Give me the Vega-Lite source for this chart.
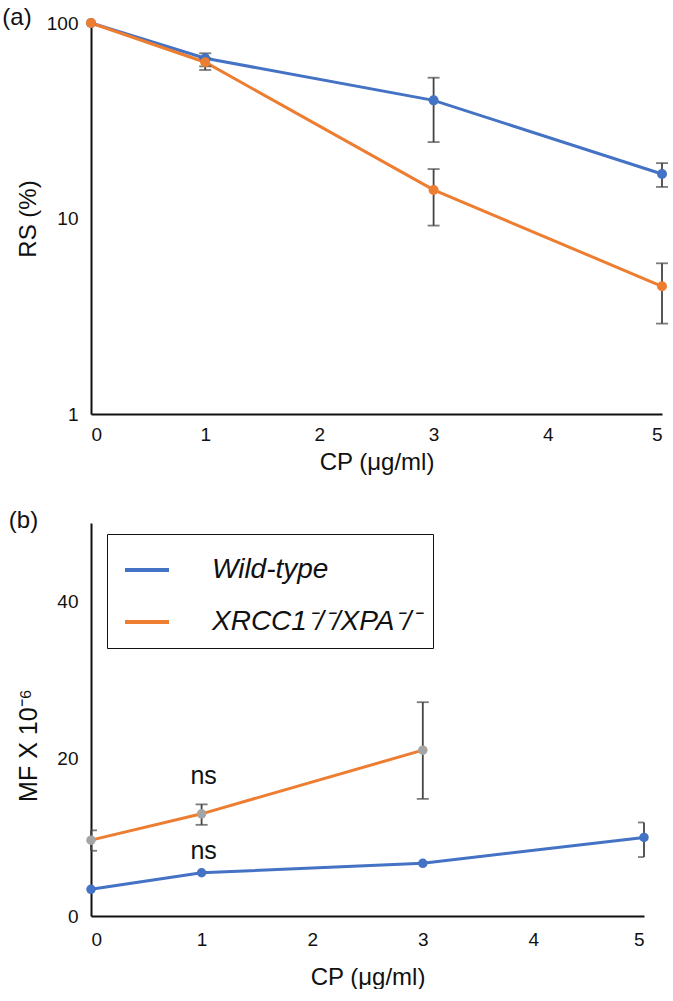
{
  "$schema": "https://vega.github.io/schema/vega-lite/v6.json",
  "background": "white",
  "padding": {"left": 2, "top": 6, "right": 0, "bottom": 0},
  "config": {
    "font": "Liberation Sans",
    "view": {"stroke": null},
    "axis": {
      "grid": false, "ticks": false, "domainColor": "#111111", "domainWidth": 2,
      "labelColor": "#111111", "titleColor": "#111111",
      "labelFont": "Liberation Sans", "titleFont": "Liberation Sans",
      "labelFontSize": 19, "titleFontSize": 24, "titleFontWeight": "normal"
    }
  },
  "datasets": {
    "a": [
      {"group": "Wild-type", "cp": 0, "v": 100, "lo": null, "hi": null},
      {"group": "Wild-type", "cp": 1, "v": 66, "lo": 60, "hi": 70},
      {"group": "Wild-type", "cp": 3, "v": 40.2, "lo": 24.6, "hi": 52.5},
      {"group": "Wild-type", "cp": 5, "v": 16.9, "lo": 14.5, "hi": 19.2},
      {"group": "XRCC1⁻/⁻/XPA⁻/⁻", "cp": 0, "v": 100, "lo": null, "hi": null},
      {"group": "XRCC1⁻/⁻/XPA⁻/⁻", "cp": 1, "v": 63, "lo": 57.5, "hi": 66},
      {"group": "XRCC1⁻/⁻/XPA⁻/⁻", "cp": 3, "v": 14.0, "lo": 9.2, "hi": 17.9},
      {"group": "XRCC1⁻/⁻/XPA⁻/⁻", "cp": 5, "v": 4.5, "lo": 2.9, "hi": 5.9}
    ],
    "b": [
      {"group": "Wild-type", "cp": 0, "v": 3.4, "lo": null, "hi": null},
      {"group": "Wild-type", "cp": 1, "v": 5.5, "lo": null, "hi": null},
      {"group": "Wild-type", "cp": 3, "v": 6.7, "lo": null, "hi": null},
      {"group": "Wild-type", "cp": 5, "v": 10.0, "lo": 7.5, "hi": 11.9},
      {"group": "XRCC1⁻/⁻/XPA⁻/⁻", "cp": 0, "v": 9.65, "lo": 8.3, "hi": 10.9},
      {"group": "XRCC1⁻/⁻/XPA⁻/⁻", "cp": 1, "v": 13.0, "lo": 11.6, "hi": 14.2},
      {"group": "XRCC1⁻/⁻/XPA⁻/⁻", "cp": 3, "v": 21.1, "lo": 14.9, "hi": 27.2}
    ],
    "ns": [
      {"cp": 1, "v": 16.8, "label": "ns"},
      {"cp": 1, "v": 7.3, "label": "ns"}
    ]
  },
  "columns": 1,
  "align": "none",
  "spacing": 35,
  "resolve": {
    "scale": {"color": "independent", "x": "independent", "y": "independent"},
    "legend": {"color": "independent"}
  },
  "concat": [
    {
      "width": 571,
      "height": 391,
      "title": {"text": "(a)", "anchor": "start", "frame": "bounds", "fontSize": 24, "fontWeight": "normal", "color": "#111111", "baseline": "top", "offset": -16, "dx": -14},
      "data": {"name": "a"},
      "encoding": {
        "x": {"field": "cp", "type": "quantitative", "scale": {"domain": [0, 5]},
              "axis": {"values": [0, 1, 2, 3, 4, 5], "title": "CP (μg/ml)", "labelPadding": 11, "titlePadding": 6}}
      },
      "layer": [
        {
          "mark": {"type": "line", "strokeWidth": 3},
          "encoding": {
            "y": {"field": "v", "type": "quantitative", "scale": {"type": "log", "domain": [1, 100]},
                  "axis": {"values": [1, 10, 100], "format": "d", "title": "RS (%)", "labelPadding": 13, "titlePadding": 6}},
            "color": {"field": "group", "type": "nominal",
                      "scale": {"domain": ["Wild-type", "XRCC1⁻/⁻/XPA⁻/⁻"], "range": ["#4472C4", "#ED7D31"]},
                      "legend": null}
          }
        },
        {
          "mark": {"type": "rule", "color": "#444444", "strokeWidth": 1.8},
          "encoding": {"y": {"field": "lo", "type": "quantitative"}, "y2": {"field": "hi"}}
        },
        {
          "mark": {"type": "tick", "orient": "horizontal", "color": "#444444", "thickness": 1.8, "size": 12},
          "encoding": {"y": {"field": "lo", "type": "quantitative"}}
        },
        {
          "mark": {"type": "tick", "orient": "horizontal", "color": "#444444", "thickness": 1.8, "size": 12},
          "encoding": {"y": {"field": "hi", "type": "quantitative"}}
        },
        {
          "mark": {"type": "point", "filled": true, "size": 100, "opacity": 1},
          "encoding": {
            "y": {"field": "v", "type": "quantitative"},
            "color": {"field": "group", "type": "nominal", "legend": null}
          }
        }
      ]
    },
    {
      "width": 553,
      "height": 393,
      "title": {"text": "(b)", "anchor": "start", "frame": "bounds", "fontSize": 24, "fontWeight": "normal", "color": "#111111", "baseline": "top", "offset": -10, "dx": -8},
      "encoding": {
        "x": {"field": "cp", "type": "quantitative", "scale": {"domain": [0, 5]},
              "axis": {"values": [0, 1, 2, 3, 4, 5], "title": "CP (μg/ml)", "labelPadding": 14, "titlePadding": 16}}
      },
      "layer": [
        {
          "data": {"name": "b"},
          "mark": {"type": "line", "strokeWidth": 3},
          "encoding": {
            "y": {"field": "v", "type": "quantitative", "scale": {"domain": [0, 50]},
                  "axis": {"values": [0, 20, 40], "title": "MF X 10⁻⁶", "titleFontSize": 25, "titleY": 222, "labelPadding": 13, "titlePadding": 15}},
            "color": {"field": "group", "type": "nominal",
                      "scale": {"domain": ["Wild-type", "XRCC1⁻/⁻/XPA⁻/⁻"], "range": ["#4472C4", "#ED7D31"]},
                      "legend": {"orient": "none", "legendX": 16, "legendY": 11, "title": null,
                                 "symbolType": "stroke", "symbolStrokeWidth": 4, "symbolSize": 1936, "symbolOffset": 4,
                                 "labelFontSize": 28, "labelFontStyle": "italic", "labelFont": "Liberation Sans",
                                 "labelColor": "#111111", "labelOffset": 41, "labelLimit": 0, "rowPadding": 14, "padding": 12,
                                 "strokeColor": "#111111", "fillColor": "white"}}
          }
        },
        {
          "data": {"name": "b"},
          "mark": {"type": "rule", "color": "#444444", "strokeWidth": 1.8},
          "encoding": {"y": {"field": "lo", "type": "quantitative"}, "y2": {"field": "hi"}}
        },
        {
          "data": {"name": "b"},
          "mark": {"type": "tick", "orient": "horizontal", "color": "#444444", "thickness": 1.8, "size": 12, "clip": true},
          "encoding": {"y": {"field": "lo", "type": "quantitative"}}
        },
        {
          "data": {"name": "b"},
          "mark": {"type": "tick", "orient": "horizontal", "color": "#444444", "thickness": 1.8, "size": 12, "clip": true},
          "encoding": {"y": {"field": "hi", "type": "quantitative"}}
        },
        {
          "data": {"name": "b"},
          "mark": {"type": "point", "filled": true, "size": 90, "opacity": 1},
          "encoding": {
            "y": {"field": "v", "type": "quantitative"},
            "color": {"condition": {"test": "datum.group === 'Wild-type'", "value": "#4472C4"}, "value": "#A5A5A5"}
          }
        },
        {
          "data": {"name": "ns"},
          "mark": {"type": "text", "fontSize": 25, "baseline": "alphabetic", "dx": 2, "color": "#111111"},
          "encoding": {
            "y": {"field": "v", "type": "quantitative"},
            "text": {"field": "label"}
          }
        }
      ]
    }
  ]
}
